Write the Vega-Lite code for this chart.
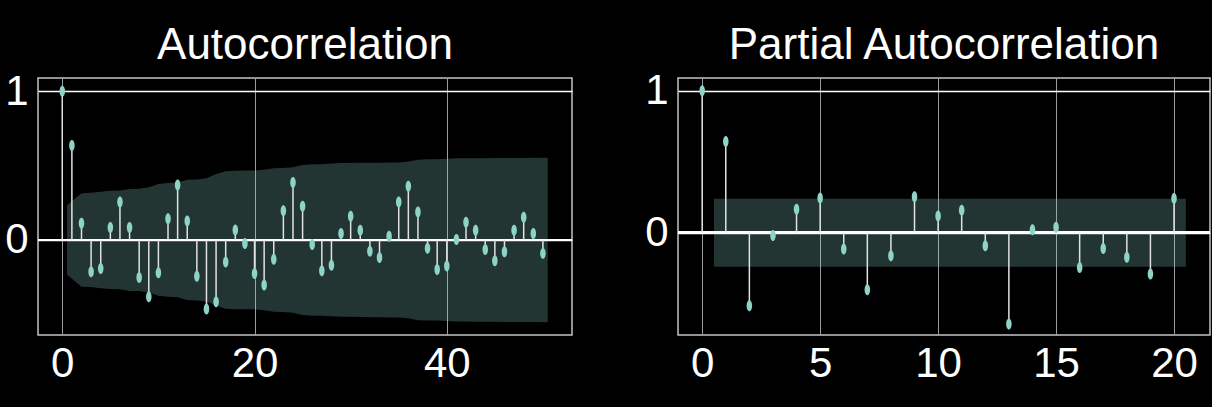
{
  "$schema": "https://vega.github.io/schema/vega-lite/v6.json",
  "background": "black",
  "padding": {"left": 3, "top": 23, "right": 2, "bottom": 22},
  "spacing": 69,
  "config": {
    "view": {"stroke": "#c4c4c4", "strokeWidth": 1.5},
    "axis": {
      "labelFont": "Liberation Sans Narrow, Liberation Sans",
      "labelFontSize": 42,
      "labelColor": "white",
      "ticks": false,
      "domain": false,
      "grid": true,
      "title": null
    },
    "axisX": {"gridColor": "#9c9c9c", "gridWidth": 1, "labelPadding": 8},
    "axisY": {"gridColor": "#ffffff", "gridWidth": 1.5, "labelPadding": 10},
    "title": {
      "font": "Liberation Sans Narrow, Liberation Sans",
      "fontSize": 44,
      "fontWeight": "normal",
      "color": "white",
      "offset": 2
    }
  },
  "datasets": {
    "acf": [
      {"lag": 0, "value": 1.0}, {"lag": 1, "value": 0.636}, {"lag": 2, "value": 0.112}, {"lag": 3, "value": -0.215},
      {"lag": 4, "value": -0.192}, {"lag": 5, "value": 0.083}, {"lag": 6, "value": 0.255}, {"lag": 7, "value": 0.083},
      {"lag": 8, "value": -0.253}, {"lag": 9, "value": -0.382}, {"lag": 10, "value": -0.221}, {"lag": 11, "value": 0.143},
      {"lag": 12, "value": 0.369}, {"lag": 13, "value": 0.128}, {"lag": 14, "value": -0.244}, {"lag": 15, "value": -0.465},
      {"lag": 16, "value": -0.416}, {"lag": 17, "value": -0.148}, {"lag": 18, "value": 0.067}, {"lag": 19, "value": -0.024},
      {"lag": 20, "value": -0.226}, {"lag": 21, "value": -0.304}, {"lag": 22, "value": -0.13}, {"lag": 23, "value": 0.197},
      {"lag": 24, "value": 0.387}, {"lag": 25, "value": 0.226}, {"lag": 26, "value": -0.031}, {"lag": 27, "value": -0.208},
      {"lag": 28, "value": -0.17}, {"lag": 29, "value": 0.043}, {"lag": 30, "value": 0.159}, {"lag": 31, "value": 0.065},
      {"lag": 32, "value": -0.076}, {"lag": 33, "value": -0.118}, {"lag": 34, "value": 0.025}, {"lag": 35, "value": 0.255},
      {"lag": 36, "value": 0.362}, {"lag": 37, "value": 0.188}, {"lag": 38, "value": -0.056}, {"lag": 39, "value": -0.199},
      {"lag": 40, "value": -0.176}, {"lag": 41, "value": 0.003}, {"lag": 42, "value": 0.119}, {"lag": 43, "value": 0.065},
      {"lag": 44, "value": -0.064}, {"lag": 45, "value": -0.141}, {"lag": 46, "value": -0.08}, {"lag": 47, "value": 0.065},
      {"lag": 48, "value": 0.152}, {"lag": 49, "value": 0.043}, {"lag": 50, "value": -0.091}
    ],
    "acfBand": [
      {"lag": 0.5, "lo": -0.234, "hi": 0.234}, {"lag": 2, "lo": -0.315, "hi": 0.315}, {"lag": 3, "lo": -0.317, "hi": 0.317},
      {"lag": 4, "lo": -0.325, "hi": 0.325}, {"lag": 5, "lo": -0.331, "hi": 0.331}, {"lag": 6, "lo": -0.332, "hi": 0.332},
      {"lag": 7, "lo": -0.343, "hi": 0.343}, {"lag": 8, "lo": -0.344, "hi": 0.344}, {"lag": 9, "lo": -0.354, "hi": 0.354},
      {"lag": 10, "lo": -0.376, "hi": 0.376}, {"lag": 11, "lo": -0.383, "hi": 0.383}, {"lag": 12, "lo": -0.386, "hi": 0.386},
      {"lag": 13, "lo": -0.405, "hi": 0.405}, {"lag": 14, "lo": -0.407, "hi": 0.407}, {"lag": 15, "lo": -0.415, "hi": 0.415},
      {"lag": 16, "lo": -0.443, "hi": 0.443}, {"lag": 17, "lo": -0.463, "hi": 0.463}, {"lag": 18, "lo": -0.466, "hi": 0.466},
      {"lag": 19, "lo": -0.467, "hi": 0.467}, {"lag": 20, "lo": -0.467, "hi": 0.467}, {"lag": 21, "lo": -0.473, "hi": 0.473},
      {"lag": 22, "lo": -0.483, "hi": 0.483}, {"lag": 23, "lo": -0.485, "hi": 0.485}, {"lag": 24, "lo": -0.49, "hi": 0.49},
      {"lag": 25, "lo": -0.505, "hi": 0.505}, {"lag": 26, "lo": -0.51, "hi": 0.51}, {"lag": 27, "lo": -0.51, "hi": 0.51},
      {"lag": 28, "lo": -0.514, "hi": 0.514}, {"lag": 29, "lo": -0.517, "hi": 0.517}, {"lag": 30, "lo": -0.517, "hi": 0.517},
      {"lag": 31, "lo": -0.519, "hi": 0.519}, {"lag": 32, "lo": -0.52, "hi": 0.52}, {"lag": 33, "lo": -0.52, "hi": 0.52},
      {"lag": 34, "lo": -0.522, "hi": 0.522}, {"lag": 35, "lo": -0.522, "hi": 0.522}, {"lag": 36, "lo": -0.528, "hi": 0.528},
      {"lag": 37, "lo": -0.54, "hi": 0.54}, {"lag": 38, "lo": -0.543, "hi": 0.543}, {"lag": 39, "lo": -0.543, "hi": 0.543},
      {"lag": 40, "lo": -0.546, "hi": 0.546}, {"lag": 41, "lo": -0.549, "hi": 0.549}, {"lag": 42, "lo": -0.549, "hi": 0.549},
      {"lag": 43, "lo": -0.55, "hi": 0.55}, {"lag": 44, "lo": -0.55, "hi": 0.55}, {"lag": 45, "lo": -0.551, "hi": 0.551},
      {"lag": 46, "lo": -0.552, "hi": 0.552}, {"lag": 47, "lo": -0.552, "hi": 0.552}, {"lag": 48, "lo": -0.552, "hi": 0.552},
      {"lag": 49, "lo": -0.553, "hi": 0.553}, {"lag": 50.5, "lo": -0.554, "hi": 0.554}
    ],
    "pacf": [
      {"lag": 0, "value": 1.0}, {"lag": 1, "value": 0.643}, {"lag": 2, "value": -0.514}, {"lag": 3, "value": -0.019},
      {"lag": 4, "value": 0.165}, {"lag": 5, "value": 0.244}, {"lag": 6, "value": -0.115}, {"lag": 7, "value": -0.401},
      {"lag": 8, "value": -0.162}, {"lag": 9, "value": 0.254}, {"lag": 10, "value": 0.118}, {"lag": 11, "value": 0.158},
      {"lag": 12, "value": -0.091}, {"lag": 13, "value": -0.643}, {"lag": 14, "value": 0.021}, {"lag": 15, "value": 0.038},
      {"lag": 16, "value": -0.244}, {"lag": 17, "value": -0.11}, {"lag": 18, "value": -0.173}, {"lag": 19, "value": -0.291},
      {"lag": 20, "value": 0.242}
    ],
    "pacfBand": [
      {"lag": 0.5, "lo": -0.24, "hi": 0.24}, {"lag": 20.5, "lo": -0.24, "hi": 0.24}
    ]
  },
  "hconcat": [
    {
      "title": "Autocorrelation",
      "width": 534,
      "height": 257,
      "layer": [
        {
          "data": {"name": "acfBand"},
          "mark": {"type": "area", "color": "#8dd3c7", "opacity": 0.25},
          "encoding": {
            "x": {"field": "lag", "type": "quantitative", "scale": {"domain": [-2.525, 53.025], "nice": false, "zero": false}, "axis": {"values": [0, 20, 40], "format": "d"}},
            "y": {"field": "lo", "type": "quantitative", "scale": {"domain": [-0.64, 1.09], "nice": false, "zero": false}, "axis": {"values": [0, 1], "format": "d"}},
            "y2": {"field": "hi"}
          }
        },
        {
          "data": {"name": "acf"},
          "mark": {"type": "rule", "color": "#ffffff", "strokeWidth": 2},
          "encoding": {"y": {"datum": 0, "type": "quantitative"}}
        },
        {
          "data": {"name": "acf"},
          "mark": {"type": "rule", "color": "#e2e2e2", "strokeWidth": 1.5},
          "encoding": {
            "x": {"field": "lag", "type": "quantitative"},
            "y": {"field": "value", "type": "quantitative"},
            "y2": {"datum": 0}
          }
        },
        {
          "data": {"name": "acf"},
          "mark": {"type": "point", "filled": true, "color": "#8dd3c7", "opacity": 1, "size": 121, "shape": "M0,-1A0.5,1,0,1,1,0,1A0.5,1,0,1,1,0,-1Z"},
          "encoding": {
            "x": {"field": "lag", "type": "quantitative"},
            "y": {"field": "value", "type": "quantitative"}
          }
        }
      ]
    },
    {
      "title": "Partial Autocorrelation",
      "width": 532,
      "height": 257,
      "layer": [
        {
          "data": {"name": "pacfBand"},
          "mark": {"type": "area", "color": "#8dd3c7", "opacity": 0.25},
          "encoding": {
            "x": {"field": "lag", "type": "quantitative", "scale": {"domain": [-1.025, 21.525], "nice": false, "zero": false}, "axis": {"values": [0, 5, 10, 15, 20], "format": "d"}},
            "y": {"field": "lo", "type": "quantitative", "scale": {"domain": [-0.72, 1.09], "nice": false, "zero": false}, "axis": {"values": [0, 1], "format": "d"}},
            "y2": {"field": "hi"}
          }
        },
        {
          "data": {"name": "pacf"},
          "mark": {"type": "rule", "color": "#ffffff", "strokeWidth": 2},
          "encoding": {"y": {"datum": 0, "type": "quantitative"}}
        },
        {
          "data": {"name": "pacf"},
          "mark": {"type": "rule", "color": "#e2e2e2", "strokeWidth": 1.5},
          "encoding": {
            "x": {"field": "lag", "type": "quantitative"},
            "y": {"field": "value", "type": "quantitative"},
            "y2": {"datum": 0}
          }
        },
        {
          "data": {"name": "pacf"},
          "mark": {"type": "point", "filled": true, "color": "#8dd3c7", "opacity": 1, "size": 121, "shape": "M0,-1A0.5,1,0,1,1,0,1A0.5,1,0,1,1,0,-1Z"},
          "encoding": {
            "x": {"field": "lag", "type": "quantitative"},
            "y": {"field": "value", "type": "quantitative"}
          }
        }
      ]
    }
  ]
}
